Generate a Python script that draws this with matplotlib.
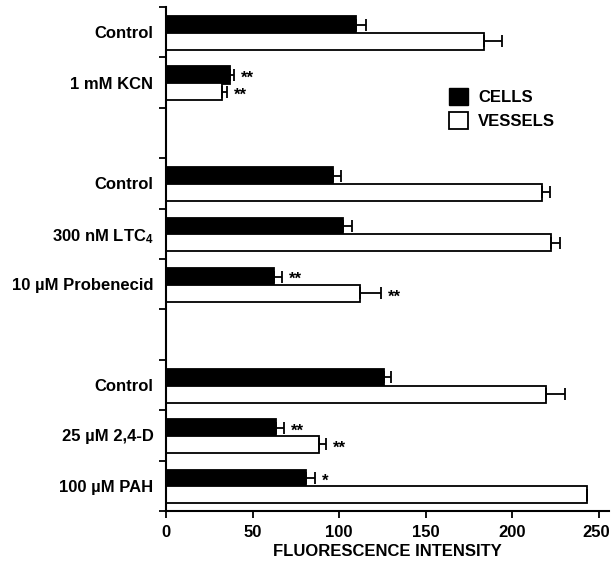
import matplotlib
matplotlib.use("Agg")
import matplotlib.pyplot as plt
from matplotlib.patches import Patch
from matplotlib.transforms import ScaledTranslation
import numpy as np

plt.rcParams['font.family'] = ['Liberation Sans', 'DejaVu Sans']
plt.rcParams['font.weight'] = 'bold'
plt.rcParams['mathtext.fontset'] = 'custom'
plt.rcParams['mathtext.rm'] = 'Liberation Sans:bold'
plt.rcParams['mathtext.bf'] = 'Liberation Sans:bold'
plt.rcParams['mathtext.default'] = 'bf'

# Slots from top to bottom (empty string = spacer slot)
labels = ["Control", "1 mM KCN", "", "Control", "300 nM LTC$_4$", "10 \u00b5M Probenecid",
          "", "Control", "25 \u00b5M 2,4-D", "100 \u00b5M PAH"]
cells = [110, 37, None, 96.5, 102.5, 62.5, None, 126, 63.5, 81]
cells_err = [5.5, 2.5, None, 4.5, 5, 4.5, None, 4, 4.5, 5]
vessels = [184, 32.5, None, 217, 222.5, 112, None, 219.5, 88.5, 243]
vessels_err = [10, 2.5, None, 5, 5, 12, None, 11, 4, 0.5]
cells_sig = ["", "**", "", "", "", "**", "", "", "**", "*"]
vessels_sig = ["", "**", "", "", "", "**", "", "", "**", ""]
xticks = [0, 50, 100, 150, 200, 250]

FS = 12

fig = plt.figure(figsize=(6.11, 5.63), dpi=100)
ax = fig.add_axes([166/611, 1-511/563, (609-166)/611, (511-7)/563])

n = len(labels)
h = 0.34
for i in range(n):
    if cells[i] is None:
        continue
    yc = i + 0.35
    yv = i + 0.68
    ax.barh(yc, cells[i], height=h, color='black', edgecolor='black', linewidth=1.3)
    ax.barh(yv, vessels[i], height=h, color='white', edgecolor='black', linewidth=1.3)
    ax.errorbar(cells[i], yc, xerr=[[0], [cells_err[i]]], fmt='none', ecolor='black',
                elinewidth=1.3, capsize=4, capthick=1.3)
    ax.errorbar(vessels[i], yv, xerr=[[0], [vessels_err[i]]], fmt='none', ecolor='black',
                elinewidth=1.3, capsize=4, capthick=1.3)
    if cells_sig[i]:
        ax.text(cells[i] + cells_err[i] + 4, yc + 0.06, cells_sig[i], ha='left', va='center',
                fontsize=FS, fontweight='bold')
    if vessels_sig[i]:
        ax.text(vessels[i] + vessels_err[i] + 4, yv + 0.08, vessels_sig[i], ha='left', va='center',
                fontsize=FS, fontweight='bold')

ax.set_ylim(n, 0)
ax.set_xlim(0, 256)
ax.set_yticks(np.arange(0, n + 1))
ax.set_yticklabels([])
ax.set_yticks(np.arange(n) + 0.5, minor=True)
ax.set_yticklabels(labels, minor=True, fontsize=FS, fontweight='bold')
ax.tick_params(axis='y', which='minor', length=0, pad=9)
ax.tick_params(axis='y', which='major', length=5, width=1.3, direction='out')
ax.set_xticks(xticks)
ax.set_xticklabels([str(t) for t in xticks], fontsize=FS, fontweight='bold')
ax.tick_params(axis='x', length=5, width=1.3, direction='out', pad=5)
ax.set_xlabel("FLUORESCENCE INTENSITY", fontsize=FS, fontweight='bold', labelpad=3)
for s in ['top', 'right']:
    ax.spines[s].set_visible(False)
for s in ['left', 'bottom']:
    ax.spines[s].set_linewidth(1.5)

# nudge the last x tick label slightly left so it stays inside the figure
last = ax.xaxis.get_major_ticks()[-1].label1
last.set_transform(last.get_transform() + ScaledTranslation(-2.5/100, 0, fig.dpi_scale_trans))

handles = [Patch(facecolor='black', edgecolor='black', label='CELLS'),
           Patch(facecolor='white', edgecolor='black', linewidth=1.3, label='VESSELS')]
fig.legend(handles=handles, loc='upper left', bbox_to_anchor=(434/611, 1-73/563), frameon=False,
           handlelength=1.15, handleheight=1.15, handletextpad=0.6, labelspacing=0.45,
           prop={'weight': 'bold', 'size': FS})

fig.savefig("out.png", dpi=100)
